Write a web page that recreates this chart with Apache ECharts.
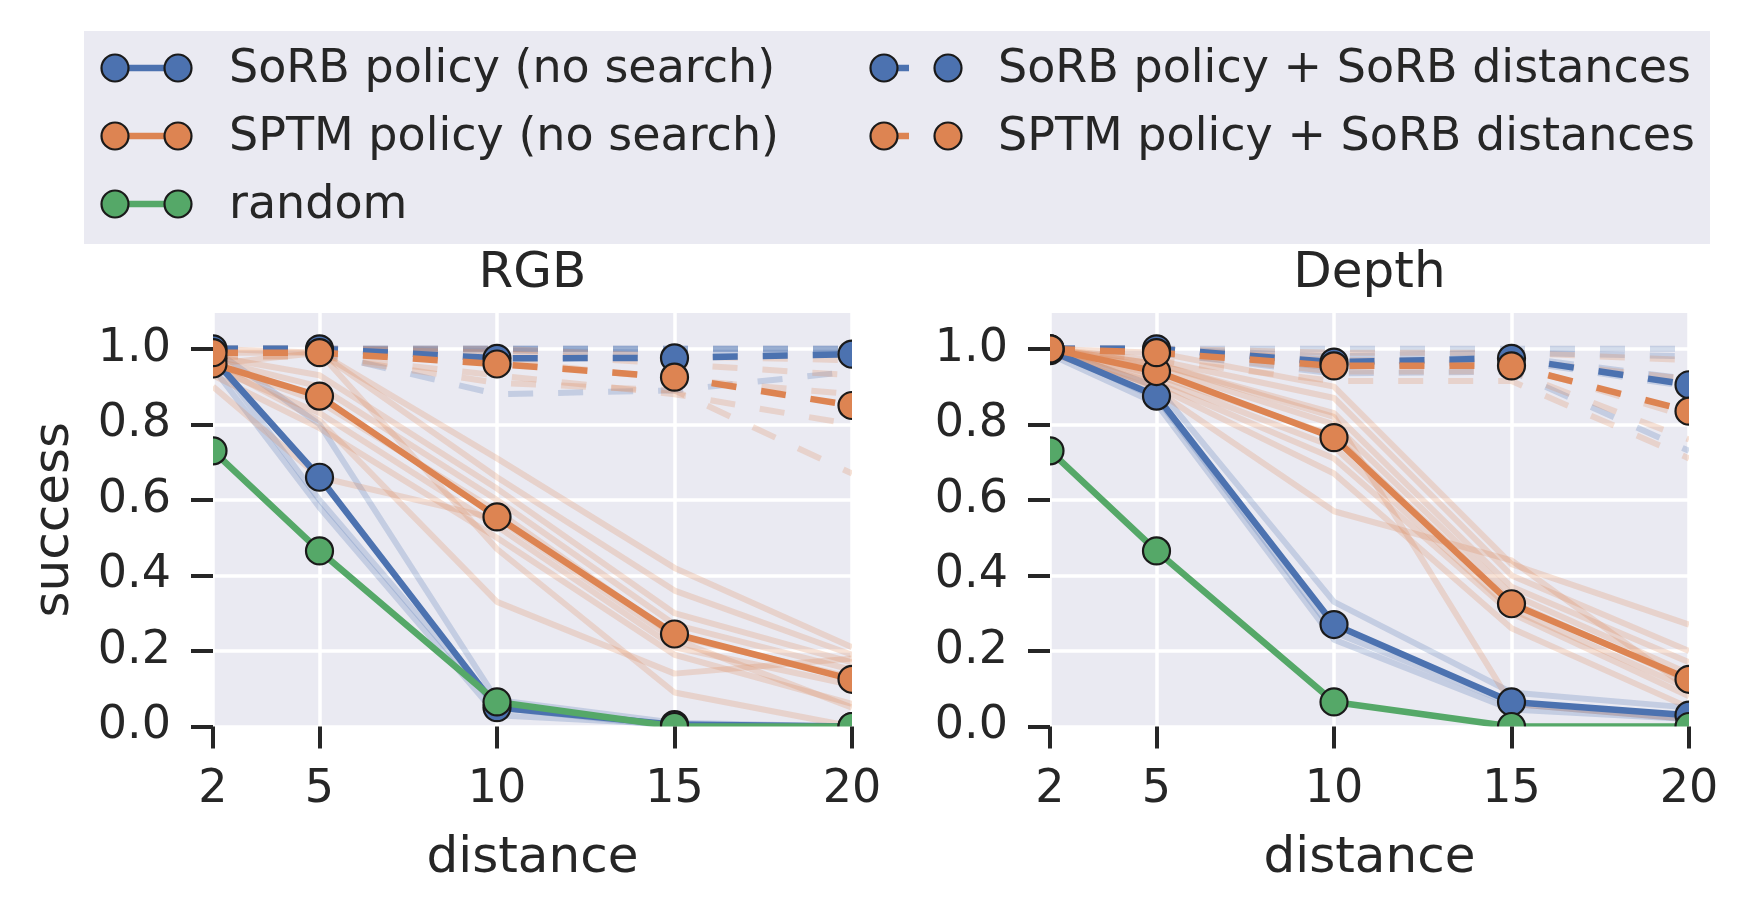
<!DOCTYPE html>
<html>
<head>
<meta charset="utf-8">
<title>success vs distance</title>
<script src="https://cdn.jsdelivr.net/npm/echarts@6/dist/echarts.min.js"></script>
<style>
html, body { margin: 0; padding: 0; background: #fff; }
#chart { width: 1747px; height: 913px; }
</style>
</head>
<body>
<div id="chart"></div>
<script>
// x values and tick labels
const distances = [2, 5, 10, 15, 20];
const yTicks = [0, 0.2, 0.4, 0.6, 0.8, 1.0];
const panelTitles = ['RGB', 'Depth'];
const methodNames = [
    'SoRB policy (no search)',
    'SPTM policy (no search)',
    'random',
    'SoRB policy + SoRB distances',
    'SPTM policy + SoRB distances'
];

// RGB - mean curves
const rgbSorb = [0.975, 0.66, 0.05, 0.005, 0.0];
const rgbSptm = [0.96, 0.875, 0.555, 0.245, 0.125];
const rgbRandom = [0.73, 0.465, 0.065, 0.0, 0.0];
const rgbSorbSearch = [1.0, 1.0, 0.975, 0.976, 0.986];
const rgbSptmSearch = [0.99, 0.99, 0.96, 0.925, 0.85];

// RGB - single runs (faint lines)
const rgbSorbRuns = [
    [1.0, 0.80, 0.07, 0.01, 0.0],
    [0.98, 0.60, 0.05, 0.0, 0.0],
    [0.95, 0.58, 0.03, 0.005, 0.0]
];
const rgbSptmRuns = [
    [1.00, 0.99, 0.71, 0.42, 0.21],
    [0.99, 0.99, 0.66, 0.36, 0.19],
    [0.98, 0.93, 0.63, 0.30, 0.17],
    [0.97, 0.90, 0.60, 0.27, 0.15],
    [0.96, 0.86, 0.57, 0.24, 0.13],
    [0.95, 0.83, 0.53, 0.21, 0.11],
    [0.93, 0.79, 0.50, 0.19, 0.06],
    [0.90, 0.66, 0.55, 0.23, 0.05],
    [0.96, 0.99, 0.47, 0.09, 0.0],
    [0.96, 0.81, 0.33, 0.14, 0.18]
];
const rgbSorbSearchRuns = [
    [1.0, 1.0, 1.0, 1.0, 1.0],
    [1.0, 1.0, 1.0, 1.0, 1.0],
    [1.0, 1.0, 1.0, 1.0, 1.0],
    [1.0, 1.0, 0.995, 0.99, 0.99],
    [1.0, 0.99, 0.88, 0.89, 0.94]
];
const rgbSptmSearchRuns = [
    [1.0, 1.0, 1.0, 0.98, 0.97],
    [1.0, 1.0, 0.99, 0.96, 0.93],
    [0.99, 0.99, 0.97, 0.92, 0.88],
    [0.98, 0.98, 0.93, 0.88, 0.80],
    [0.98, 0.98, 0.91, 0.89, 0.67]
];

// Depth - mean curves
const depthSorb = [0.995, 0.875, 0.27, 0.065, 0.03];
const depthSptm = [1.0, 0.94, 0.765, 0.325, 0.125];
const depthRandom = [0.73, 0.465, 0.065, 0.0, 0.0];
const depthSorbSearch = [1.0, 1.0, 0.965, 0.975, 0.905];
const depthSptmSearch = [1.0, 0.99, 0.955, 0.955, 0.835];

// Depth - single runs
const depthSorbRuns = [
    [1.0, 0.90, 0.33, 0.09, 0.05],
    [1.0, 0.87, 0.25, 0.06, 0.02],
    [0.985, 0.855, 0.23, 0.045, 0.02]
];
const depthSptmRuns = [
    [1.0, 0.99, 0.90, 0.43, 0.27],
    [1.0, 0.97, 0.87, 0.40, 0.20],
    [1.0, 0.96, 0.83, 0.37, 0.17],
    [1.0, 0.95, 0.80, 0.35, 0.14],
    [1.0, 0.93, 0.77, 0.33, 0.12],
    [1.0, 0.92, 0.74, 0.31, 0.10],
    [0.99, 0.91, 0.71, 0.30, 0.08],
    [1.0, 0.90, 0.67, 0.26, 0.05],
    [0.99, 0.89, 0.57, 0.44, 0.10],
    [1.0, 0.96, 0.82, 0.06, 0.02]
];
const depthSorbSearchRuns = [
    [1.0, 1.0, 1.0, 1.0, 1.0],
    [1.0, 1.0, 0.98, 0.99, 0.98],
    [1.0, 1.0, 0.96, 0.98, 0.92],
    [1.0, 1.0, 0.95, 0.97, 0.90],
    [1.0, 0.99, 0.935, 0.94, 0.73]
];
const depthSptmSearchRuns = [
    [1.0, 1.0, 0.99, 0.99, 0.97],
    [1.0, 1.0, 0.97, 0.97, 0.92],
    [1.0, 0.99, 0.96, 0.96, 0.82],
    [1.0, 0.99, 0.94, 0.94, 0.76],
    [1.0, 0.97, 0.915, 0.915, 0.71]
];

const BLUE = '#4C72B0', ORANGE = '#DD8452', GREEN = '#55A868';
const INK = '#262626';
const FONT = "'DejaVu Sans', sans-serif";
const DASH = [25, 25];

// layout (px)
const W = 1747, H = 913;
const gridTop = 313, gridH = 413.5, gridW = 639;
const gridLeft = [213, 1050];
const yMax = 1.095;

const panels = [
    { mean: [rgbSorb, rgbSptm, rgbRandom, rgbSorbSearch, rgbSptmSearch],
      runs: [rgbSorbRuns, rgbSptmRuns, null, rgbSorbSearchRuns, rgbSptmSearchRuns] },
    { mean: [depthSorb, depthSptm, depthRandom, depthSorbSearch, depthSptmSearch],
      runs: [depthSorbRuns, depthSptmRuns, null, depthSorbSearchRuns, depthSptmSearchRuns] }
];
const methodColors = [BLUE, ORANGE, GREEN, BLUE, ORANGE];
const methodDashed = [false, false, false, true, true];

function pts(vals) {
    return distances.map((d, i) => [d, vals[i]]);
}

function runLines(runs, color, dashed, g) {
    return runs.map(r => ({
        type: 'line', xAxisIndex: g, yAxisIndex: g, data: pts(r),
        symbol: 'none', silent: true, clip: false, z: 2,
        emphasis: { disabled: true },
        lineStyle: { color: color, width: 6, opacity: 0.24, type: dashed ? DASH : 'solid' }
    }));
}

function meanLine(vals, color, dashed, g, name) {
    return {
        type: 'line', name: name, xAxisIndex: g, yAxisIndex: g, data: pts(vals),
        symbol: 'circle', symbolSize: 27, showSymbol: true, clip: false, z: 3,
        emphasis: { disabled: true },
        lineStyle: { color: color, width: 6.5, type: dashed ? DASH : 'solid' },
        itemStyle: { color: color, borderColor: '#1a1a1a', borderWidth: 2.2 }
    };
}

let series = [];
panels.forEach((p, g) => {
    p.runs.forEach((runs, m) => {
        if (runs) series = series.concat(runLines(runs, methodColors[m], methodDashed[m], g));
    });
});
panels.forEach((p, g) => {
    p.mean.forEach((vals, m) => {
        series.push(meanLine(vals, methodColors[m], methodDashed[m], g, methodNames[m]));
    });
});

// axes 0,1 only give the white grid lines (under the series),
// axes 2,3 carry ticks, labels and names above the white masks
const xAxis = [];
const yAxis = [];
[0, 1].forEach(g => {
    xAxis.push({
        type: 'value', gridIndex: g, min: 2, max: 20, position: 'bottom', z: 0,
        axisLine: { show: false, onZero: false },
        axisTick: { show: false, customValues: distances },
        axisLabel: { show: false, customValues: distances },
        splitLine: { show: true, lineStyle: { color: '#fff', width: 3.5 } }
    });
    yAxis.push({
        type: 'value', gridIndex: g, min: 0, max: yMax, position: 'left', z: 0,
        axisLine: { show: false, onZero: false },
        axisTick: { show: false, customValues: yTicks },
        axisLabel: { show: false, customValues: yTicks },
        splitLine: { show: true, lineStyle: { color: '#fff', width: 3.5 } }
    });
});
[0, 1].forEach(g => {
    xAxis.push({
        type: 'value', gridIndex: g, min: 2, max: 20, position: 'bottom', z: 60,
        axisLine: { show: false, onZero: false },
        axisTick: { show: true, customValues: distances, length: 22,
                    lineStyle: { color: INK, width: 4 } },
        axisLabel: { customValues: distances, fontSize: 46, color: INK, fontFamily: FONT, margin: 41 },
        splitLine: { show: false },
        name: 'distance', nameLocation: 'middle', nameGap: 108,
        nameTextStyle: { fontSize: 50, color: INK, fontFamily: FONT }
    });
    yAxis.push({
        type: 'value', gridIndex: g, min: 0, max: yMax, position: 'left', z: 60,
        axisLine: { show: false, onZero: false },
        axisTick: { show: true, customValues: yTicks, length: 22,
                    lineStyle: { color: INK, width: 4 } },
        axisLabel: { customValues: yTicks, fontSize: 46, color: INK, fontFamily: FONT, margin: 42,
                     formatter: v => v.toFixed(1) },
        splitLine: { show: false },
        name: g === 0 ? 'success' : '', nameLocation: 'middle', nameGap: 133,
        nameTextStyle: { fontSize: 50, color: INK, fontFamily: FONT }
    });
});

// white masks outside the plot areas, so markers on the edges get cut like in the original
const gridBottom = gridTop + gridH;
const masks = [
    [0, 0, W, gridTop],
    [0, gridBottom, W, H - gridBottom],
    [0, 0, gridLeft[0], H],
    [gridLeft[0] + gridW, 0, gridLeft[1] - gridLeft[0] - gridW, H],
    [gridLeft[1] + gridW, 0, W - gridLeft[1] - gridW, H]
].map(m => ({
    type: 'rect', z: 50, silent: true,
    shape: { x: m[0], y: m[1], width: m[2], height: m[3] },
    style: { fill: '#fff' }
}));

// panel titles
const titles = panelTitles.map((t, g) => ({
    type: 'text', z: 60, silent: true,
    style: { text: t, x: gridLeft[g] + gridW / 2, y: 274, textAlign: 'center',
             textVerticalAlign: 'middle', font: '50px ' + FONT, fill: INK }
}));

// legend box drawn by hand: matplotlib style handles (marker - line - marker)
const legendRowY = [68, 136, 204];
const legendCols = [{ c1: 115, c2: 178, tx: 229 }, { c1: 884, c2: 948, tx: 998 }];
const legendSlots = [[0, 0], [0, 1], [0, 2], [1, 0], [1, 1]];
const legend = [{
    type: 'rect', z: 70, silent: true,
    shape: { x: 84, y: 31, width: 1626, height: 213 },
    style: { fill: '#EAEAF2' }
}];
methodNames.forEach((name, m) => {
    const col = legendCols[legendSlots[m][0]];
    const y = legendRowY[legendSlots[m][1]];
    const color = methodColors[m];
    legend.push({
        type: 'line', z: 71, silent: true,
        shape: { x1: col.c1, y1: y, x2: col.c2, y2: y },
        style: { stroke: color, lineWidth: 6.5, lineDash: methodDashed[m] ? DASH : null }
    });
    [col.c1, col.c2].forEach(cx => legend.push({
        type: 'circle', z: 72, silent: true,
        shape: { cx: cx, cy: y, r: 13.5 },
        style: { fill: color, stroke: '#1a1a1a', lineWidth: 2.2 }
    }));
    legend.push({
        type: 'text', z: 72, silent: true,
        style: { text: name, x: col.tx, y: y + 2, textAlign: 'left', textVerticalAlign: 'middle',
                 font: '46px ' + FONT, fill: INK }
    });
});

const chart = echarts.init(document.getElementById('chart'));
chart.setOption({
    animation: false,
    backgroundColor: '#fff',
    grid: gridLeft.map(l => ({
        left: l, top: gridTop, width: gridW, height: gridH,
        show: true, backgroundColor: '#EAEAF2', borderWidth: 0
    })),
    xAxis: xAxis,
    yAxis: yAxis,
    series: series,
    graphic: masks.concat(titles, legend)
});
</script>
</body>
</html>
